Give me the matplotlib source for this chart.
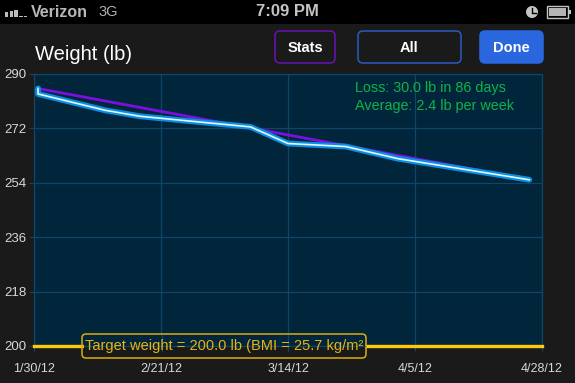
import matplotlib
matplotlib.use('Agg')
import matplotlib.pyplot as plt
from matplotlib.patches import Rectangle, FancyBboxPatch, Circle

plt.rcParams['font.family'] = ['Liberation Sans', 'DejaVu Sans']

W, H = 575, 383

# days since 1/30/12
days = [0.7, 0.7, 12.3, 18.4, 37.5, 44, 54, 63, 85.8]
weight = [285.2, 283.4, 278, 276, 272.5, 267, 266, 262, 255]
trend_days = [0.7, 85.8]
trend_weight = [285.2, 255]
target = 200
tick_days = [0, 22, 44, 66, 88]
tick_dates = ['1/30/12', '2/21/12', '3/14/12', '4/5/12', '4/28/12']
y_ticks = [200, 218, 236, 254, 272, 290]

BG = '#1a1a1a'
GRID = '#0f4565'
PLOT = '#01263c'
YELLOW = '#fdc70c'
GREEN = '#0cb34a'

fig = plt.figure(figsize=(W / 100, H / 100), dpi=100, facecolor=BG)


def pixel_layer(z):
    # whole-figure layer in pixels, y going down like the screenshot
    a = fig.add_axes([0, 0, 1, 1], zorder=z)
    a.set_xlim(0, W)
    a.set_ylim(H, 0)
    a.axis('off')
    return a


bg = pixel_layer(0)


def button(x0, y0, x1, y1, edge, face):
    bg.add_patch(FancyBboxPatch((x0 + 4, y0 + 4), x1 - x0 - 8, y1 - y0 - 8,
                                boxstyle='round,pad=4,rounding_size=5',
                                fc=face, ec=edge, lw=1.1))


bg.add_patch(Rectangle((0, 0), W, 24, fc='black', ec='none'))

# signal bars
for i, h in enumerate([5, 6, 7, 1.5, 1.5]):
    bg.add_patch(Rectangle((5 + i * 4.7, 17 - h), 3.4, h, fc='#bdbdbd', ec='none'))
bg.text(31, 12.5, 'Verizon', color='#b8b8b8', fontsize=11.5, weight='bold', va='center')
bg.text(98, 12.5, '3G', color='#b0b0b0', fontsize=10.5, va='center')
bg.text(287, 12, '7:09 PM', color='#c4c4c4', fontsize=12, weight='bold', va='center', ha='center')

# clock and battery
bg.add_patch(Circle((532, 12), 6, fc='#c4c4c4', ec='none'))
bg.plot([532, 532, 535.5], [8, 12.5, 12.5], color='black', lw=1)
bg.add_patch(Rectangle((547, 5.5), 21, 12, fc='black', ec='#c4c4c4', lw=1))
bg.add_patch(Rectangle((549, 7.5), 17, 8, fc='#b4b4b4', ec='none'))
bg.add_patch(Rectangle((569, 9.5), 2, 4, fc='#c4c4c4', ec='none'))

bg.text(35, 55, 'Weight (lb)', color='white', fontsize=14.5, va='center')

button(275, 31, 335, 63, '#6a12b4', BG)
button(358, 31, 461, 63, '#2a5cc0', BG)
button(480, 31, 543, 63, '#2a66dd', '#2a66dd')
bg.text(305, 47.5, 'Stats', color='white', fontsize=10.5, weight='bold', ha='center', va='center')
bg.text(409, 47.5, 'All', color='white', fontsize=10.5, weight='bold', ha='center', va='center')
bg.text(511, 47.5, 'Done', color='white', fontsize=10.5, weight='bold', ha='center', va='center')

ax = fig.add_axes([34 / W, (H - 346) / H, 508 / W, 272 / H], zorder=1)
ax.set_facecolor(PLOT)
ax.set_xlim(0, 88)
ax.set_ylim(200, 290)
ax.set_xticks(tick_days)
ax.set_yticks(y_ticks)
ax.set_xticklabels(tick_dates, color='#d8d8d8', fontsize=9)
ax.set_yticklabels([str(v) for v in y_ticks], color='#d8d8d8', fontsize=9.5)
ax.tick_params(axis='x', length=3.5, width=0.9, color=GRID, pad=8.5)
ax.tick_params(axis='y', length=3.5, width=0.9, color=GRID, pad=2)
ax.grid(True, color=GRID, lw=0.9)
ax.set_axisbelow(True)
for s in ax.spines.values():
    s.set_color(GRID)
    s.set_linewidth(0.9)

ax.axhline(target, color=YELLOW, lw=2.4, clip_on=False, zorder=6)
ax.plot(trend_days, trend_weight, color='#7a0fe0', lw=2, zorder=3)
ax.plot(days, weight, color='#0a8fe0', lw=4.2, zorder=4, solid_capstyle='round', solid_joinstyle='round')
ax.plot(days, weight, color='#e4f6ff', lw=1.2, zorder=5, solid_joinstyle='round')

ax.text(0.631, 0.948, 'Loss: 30.0 lb in 86 days', transform=ax.transAxes, color=GREEN,
        fontsize=10.4, va='center')
ax.text(0.631, 0.883, 'Average: 2.4 lb per week', transform=ax.transAxes, color=GREEN,
        fontsize=10.4, va='center')

# target label box sits over the plot edge, see-through apart from the line
top = pixel_layer(2)
top.add_patch(Rectangle((84, 335), 281, 11, fc=PLOT, ec='none'))
top.add_patch(Rectangle((84, 346), 281, 10, fc=BG, ec='none'))
for gx in [161.5, 288]:
    top.plot([gx, gx], [335, 351], color=GRID, lw=0.9)
top.plot([84, 365], [346, 346], color=GRID, lw=0.9)
top.add_patch(FancyBboxPatch((86, 338), 276, 16, boxstyle='round,pad=4,rounding_size=4',
                             fc='none', ec='#e0ac0c', lw=1.1))
top.text(224, 346, 'Target weight = 200.0 lb (BMI = 25.7 kg/m²', color='#e8b410',
         fontsize=10.5, ha='center', va='center')

fig.savefig('out.png', dpi=100, facecolor=BG)
